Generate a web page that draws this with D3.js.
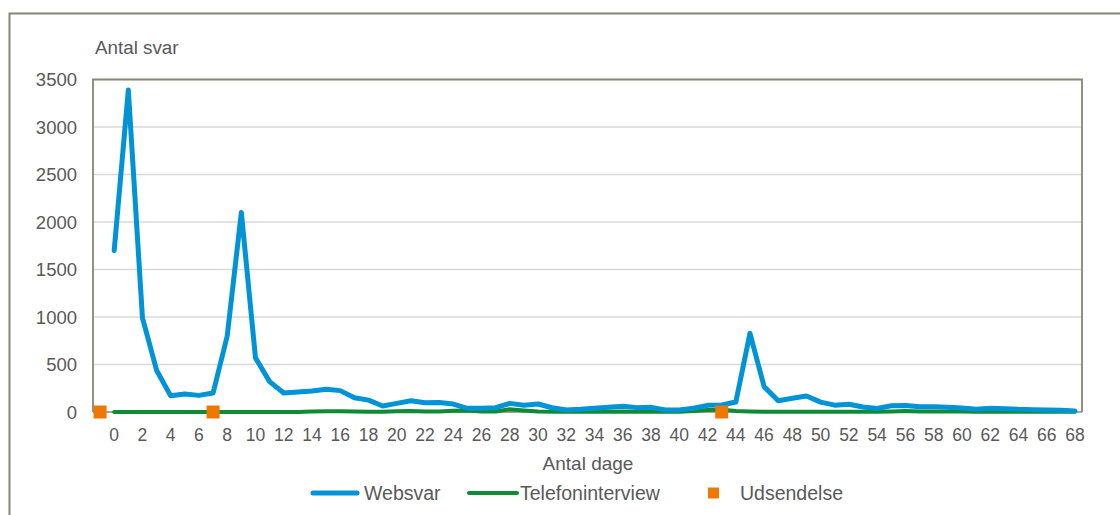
<!doctype html>
<html>
<head>
<meta charset="utf-8">
<title>Antal svar pr. dag</title>
<script src="https://d3js.org/d3.v7.min.js"></script>
<style>
  body { margin: 0; background: #fff; }
  svg text { font-family: "Liberation Sans", Arial, sans-serif; fill: #595959; }
</style>
</head>
<body>
<div id="chart"></div>
<script>
// categories: one blank slot before day 0, then days 0..68
var days = d3.range(-1, 69);

var websvar = [1700, 3390, 990, 440, 170, 190, 175, 200, 800, 2100,
  570, 320, 200, 210, 220, 240, 225, 150, 125, 63,
  91, 119, 98, 101, 84, 39, 39, 46, 91, 70,
  84, 45, 21, 28, 39, 49, 60, 46, 49, 21,
  21, 39, 70, 74, 105, 828, 267, 119, 144, 168,
  104, 72, 82, 52, 37, 66, 68, 56, 56, 50,
  42, 30, 39, 35, 28, 25, 21, 18, 11];

var telefon = [0, 0, 0, 0, 0, 0, 0, 0, 0, 0,
  0, 0, 0, 0, 5, 8, 8, 5, 3, 3,
  8, 10, 5, 5, 12, 15, 5, 5, 28, 15,
  5, 3, 3, 3, 3, 3, 5, 3, 3, 3,
  3, 10, 22, 25, 10, 5, 3, 3, 3, 3,
  3, 3, 3, 3, 3, 5, 10, 5, 5, 5,
  5, 3, 3, 5, 3, 3, 3, 3, 3];

var udsendelse = [-1, 7, 43];

var yTicks = [0, 500, 1000, 1500, 2000, 2500, 3000, 3500];

var W = 1120, H = 515;
var plot = {left: 93, right: 1082, top: 79.5, bottom: 412};

var svg = d3.select("#chart").append("svg")
  .attr("width", W).attr("height", H);

// outer frame of the chart object
svg.append("path")
  .attr("d", "M9.5," + (H + 5) + "V13.5H" + (W + 5))
  .attr("fill", "none").attr("stroke", "#85857a").attr("stroke-width", 2);

var x = d3.scaleBand().domain(days).range([plot.left, plot.right]).padding(0);
var y = d3.scaleLinear().domain([0, 3500]).range([plot.bottom, plot.top]);
var cx = function(d) { return x(d) + x.bandwidth() / 2; };

// gridlines
svg.append("g").selectAll("line")
  .data(yTicks.filter(function(t) { return t > 0 && t < 3500; }))
  .enter().append("line")
  .attr("x1", plot.left).attr("x2", plot.right)
  .attr("y1", function(d) { return y(d); }).attr("y2", function(d) { return y(d); })
  .attr("stroke", "#d9d9d9").attr("stroke-width", 1.5);

// plot border (left, top, right) and x axis line
svg.append("path")
  .attr("d", "M" + plot.left + "," + plot.bottom + "V" + plot.top + "H" + plot.right + "V" + plot.bottom)
  .attr("fill", "none").attr("stroke", "#85857a").attr("stroke-width", 1.8);
svg.append("line")
  .attr("x1", plot.left).attr("x2", plot.right)
  .attr("y1", plot.bottom).attr("y2", plot.bottom)
  .attr("stroke", "#85857a").attr("stroke-width", 1.5);

// y tick labels
svg.append("g").selectAll("text")
  .data(yTicks).enter().append("text")
  .attr("x", 77).attr("y", function(d) { return y(d); })
  .attr("dy", "0.36em")
  .attr("text-anchor", "end")
  .style("font-size", "18.5px")
  .text(function(d) { return d; });

// x tick labels (every second day)
svg.append("g").selectAll("text")
  .data(days.filter(function(d) { return d >= 0 && d % 2 === 0; }))
  .enter().append("text")
  .attr("x", cx).attr("y", 441)
  .attr("text-anchor", "middle")
  .style("font-size", "17.5px")
  .text(function(d) { return d; });

// axis titles
svg.append("text").attr("x", 95).attr("y", 54)
  .style("font-size", "18.8px").text("Antal svar");
svg.append("text").attr("x", 588).attr("y", 470)
  .attr("text-anchor", "middle")
  .style("font-size", "19px").text("Antal dage");

// lines
var line = function(vals) {
  return d3.line()
    .x(function(d, i) { return cx(i); })
    .y(function(d) { return y(d); })(vals);
};

svg.append("path")
  .attr("d", line(telefon))
  .attr("fill", "none").attr("stroke", "#0f8a35").attr("stroke-width", 4)
  .attr("stroke-linejoin", "round").attr("stroke-linecap", "round");

svg.append("path")
  .attr("d", line(websvar))
  .attr("fill", "none").attr("stroke", "#0093d6").attr("stroke-width", 5)
  .attr("stroke-linejoin", "round").attr("stroke-linecap", "round");

// Udsendelse markers
svg.append("g").selectAll("rect")
  .data(udsendelse).enter().append("rect")
  .attr("x", function(d) { return cx(d) - 6.5; })
  .attr("y", y(0) - 6.5)
  .attr("width", 13).attr("height", 13)
  .attr("fill", "#f07800");

// legend
var lg = svg.append("g");
lg.append("line").attr("x1", 313).attr("x2", 357).attr("y1", 493).attr("y2", 493)
  .attr("stroke", "#0093d6").attr("stroke-width", 5).attr("stroke-linecap", "round");
lg.append("text").attr("x", 364).attr("y", 500).style("font-size", "19.5px").text("Websvar");
lg.append("line").attr("x1", 469).attr("x2", 517).attr("y1", 493).attr("y2", 493)
  .attr("stroke", "#0f8a35").attr("stroke-width", 4).attr("stroke-linecap", "round");
lg.append("text").attr("x", 520).attr("y", 500).style("font-size", "19.5px").text("Telefoninterview");
lg.append("rect").attr("x", 708).attr("y", 487.5).attr("width", 11).attr("height", 11)
  .attr("fill", "#f07800");
lg.append("text").attr("x", 740).attr("y", 500).style("font-size", "19.5px").text("Udsendelse");
</script>
</body>
</html>
